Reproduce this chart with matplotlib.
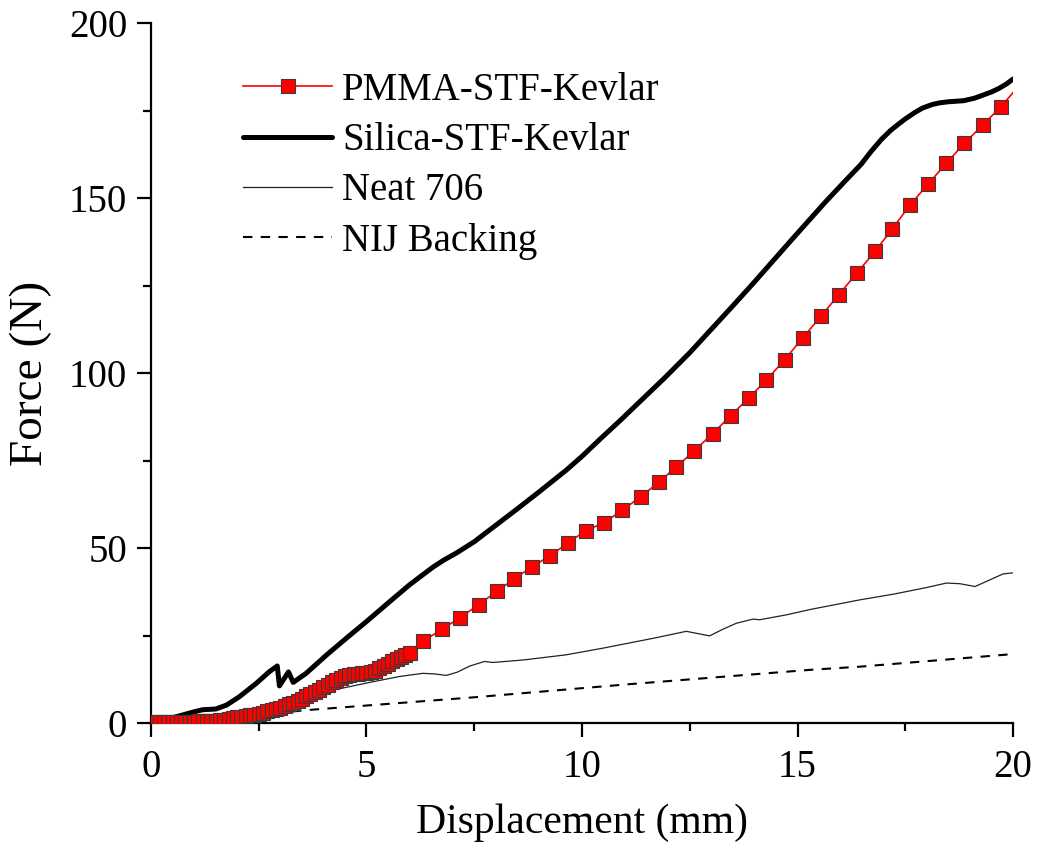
import matplotlib
matplotlib.use("Agg")
import matplotlib.pyplot as plt
from matplotlib.ticker import MultipleLocator

# Silica-STF-Kevlar (grueso, negro)
silica_x = [0.0, 0.5, 1.0, 1.2, 1.5, 1.75, 2.05, 2.44, 2.75, 2.93, 2.98, 3.19, 3.30,
            3.6, 4.07, 4.53, 5.0, 5.54, 6.0, 6.3, 6.55, 6.8, 7.09, 7.5, 8.0, 8.5,
            9.0, 9.64, 10.0, 10.41, 10.9, 11.34, 11.9, 12.5, 13.0, 13.5, 14.0, 14.4,
            14.83, 15.25, 15.65, 16.1, 16.48, 16.7, 16.95, 17.15, 17.34, 17.5, 17.73,
            17.9, 18.12, 18.3, 18.5, 18.85, 19.1, 19.28, 19.5, 19.67, 19.85, 20.0]
silica_y = [0.5, 1.5, 3.2, 3.8, 4.0, 5.1, 7.5, 11.3, 14.7, 16.3, 10.6, 14.6, 11.6,
            14.2, 19.4, 24.2, 29.0, 34.7, 39.5, 42.3, 44.6, 46.6, 48.6, 51.8, 56.5,
            61.2, 66.0, 72.3, 76.2, 81.0, 86.6, 91.8, 98.4, 105.8, 112.5, 119.2, 126.0,
            131.6, 137.6, 143.4, 148.9, 154.8, 159.7, 163.2, 166.8, 169.2, 171.1, 172.6,
            174.5, 175.7, 176.7, 177.2, 177.5, 177.8, 178.5, 179.3, 180.3, 181.3, 182.6,
            184.0]

# PMMA-STF-Kevlar (rojo con cuadrados)
pmma_x = [0.0, 0.1, 0.2, 0.3, 0.4, 0.5, 0.6, 0.7, 0.8, 0.9, 1.0, 1.1, 1.2, 1.3, 1.4,
          1.5, 1.6, 1.7, 1.8, 1.9, 2.0, 2.1, 2.2, 2.3, 2.4, 2.5, 2.6, 2.7, 2.8, 2.9,
          3.0, 3.1, 3.2, 3.3, 3.4, 3.5, 3.6, 3.7, 3.8, 3.9, 4.0, 4.1, 4.2, 4.3, 4.4,
          4.5, 4.6, 4.7, 4.8, 4.9, 5.0, 5.1, 5.2, 5.3, 5.4, 5.5, 5.6, 5.7, 5.8, 5.9,
          6.0, 6.31, 6.75, 7.16, 7.6, 8.02, 8.43, 8.85, 9.26, 9.68, 10.09, 10.51,
          10.93, 11.36, 11.78, 12.19, 12.61, 13.03, 13.45, 13.87, 14.28, 14.70, 15.12,
          15.54, 15.96, 16.38, 16.80, 17.20, 17.61, 18.03, 18.45, 18.87, 19.30, 19.72,
          20.0]
pmma_y = [0.2, 0.2, 0.2, 0.2, 0.3, 0.3, 0.3, 0.3, 0.4, 0.4, 0.4, 0.5, 0.5, 0.6, 0.6,
          0.7, 0.9, 1.0, 1.2, 1.4, 1.6, 1.8, 2.0, 2.2, 2.4, 2.7, 3.0, 3.4, 3.8, 4.1,
          4.4, 4.8, 5.3, 5.8, 6.4, 7.0, 7.6, 8.2, 8.9, 9.5, 10.2, 10.9, 11.6, 12.3, 13.0,
          13.3, 13.6, 13.9, 14.1, 14.3, 14.4, 14.6, 15.0, 15.6, 16.3, 17.0, 17.6, 18.2,
          18.8, 19.4, 20.1, 23.3, 26.8, 30.0, 33.8, 37.6, 41.2, 44.7, 47.8, 51.5, 55.0,
          57.2, 60.8, 64.6, 68.8, 73.2, 77.8, 82.7, 87.8, 92.9, 98.0, 103.8, 110.0,
          116.2, 122.4, 128.6, 134.8, 141.2, 148.0, 154.0, 159.9, 165.6, 170.9, 176.1,
          180.1]

# Neat 706 (línea fina)
neat_x = [0.0, 1.0, 2.0, 3.0, 3.7, 4.3, 5.15, 5.77, 6.31, 6.6, 6.85, 7.1, 7.4, 7.74,
          7.93, 8.63, 9.64, 10.49, 11.65, 12.42, 12.96, 13.27, 13.58, 13.97, 14.12,
          14.74, 15.28, 16.45, 17.22, 17.99, 18.46, 18.77, 19.12, 19.39, 19.77, 20.0]
neat_y = [0.0, 0.6, 1.8, 4.0, 6.5, 9.6, 11.8, 13.3, 14.2, 14.0, 13.6, 14.5, 16.3, 17.6,
          17.3, 18.0, 19.5, 21.4, 24.2, 26.2, 24.9, 26.8, 28.5, 29.7, 29.5,
          30.9, 32.4, 35.2, 36.8, 38.7, 40.0, 39.8, 39.0, 40.5, 42.6, 42.9]

# NIJ Backing (discontinua)
nij_x = [0.0, 1.0, 2.0, 3.0, 3.52, 7.55, 11.0, 15.3, 16.45, 20.0]
nij_y = [0.0, 0.6, 1.6, 2.9, 3.6, 7.4, 11.0, 15.2, 16.1, 19.7]

plt.rcParams['font.family'] = ['Liberation Serif', 'DejaVu Serif']

fig = plt.figure(figsize=(10.39, 8.59), dpi=100)
ax = fig.add_axes([0.1453, 0.1583, 0.8297, 0.8149])

ax.plot(pmma_x, pmma_y, color='red', lw=1.2, marker='s', markersize=9.5,
        markerfacecolor='red', markeredgecolor='#3a3a3a', markeredgewidth=0.8,
        markevery=slice(0, len(pmma_x) - 1), label='PMMA-STF-Kevlar', zorder=4)
ax.plot(silica_x, silica_y, color='black', lw=3.6, label='Silica-STF-Kevlar',
        solid_capstyle='round', solid_joinstyle='round', zorder=3)
ax.plot(neat_x, neat_y, color='#222222', lw=0.9, label='Neat 706', zorder=2)
ax.plot(nij_x, nij_y, color='black', lw=1.5, dashes=(4.5, 4), label='NIJ Backing',
        zorder=2)

ax.set_xlim(0, 20)
ax.set_ylim(0, 200)
ax.xaxis.set_major_locator(MultipleLocator(5))
ax.xaxis.set_minor_locator(MultipleLocator(2.5))
ax.yaxis.set_major_locator(MultipleLocator(50))
ax.yaxis.set_minor_locator(MultipleLocator(25))

for s in ['top', 'right']:
    ax.spines[s].set_visible(False)
for s in ['left', 'bottom']:
    ax.spines[s].set_linewidth(1.6)

ax.tick_params(which='major', direction='out', length=10, width=1.6,
               labelsize=28, pad=7)
ax.tick_params(which='minor', direction='out', length=6, width=1.6)
ax.tick_params(axis='x', which='major', pad=9)

ax.set_xlabel('Displacement (mm)', fontsize=30)
ax.set_ylabel('Force (N)', fontsize=34)
ax.xaxis.set_label_coords(0.5, -0.115)
ax.yaxis.set_label_coords(-0.115, 0.5)

leg = ax.legend(loc='upper left', bbox_to_anchor=(243 / 1039, 1 - 72 / 859),
                bbox_transform=fig.transFigure, frameon=False, fontsize=28,
                handlelength=2.3, handletextpad=0.25, labelspacing=0.34,
                borderpad=0, borderaxespad=0)

fig.savefig('out.png', dpi=100)
